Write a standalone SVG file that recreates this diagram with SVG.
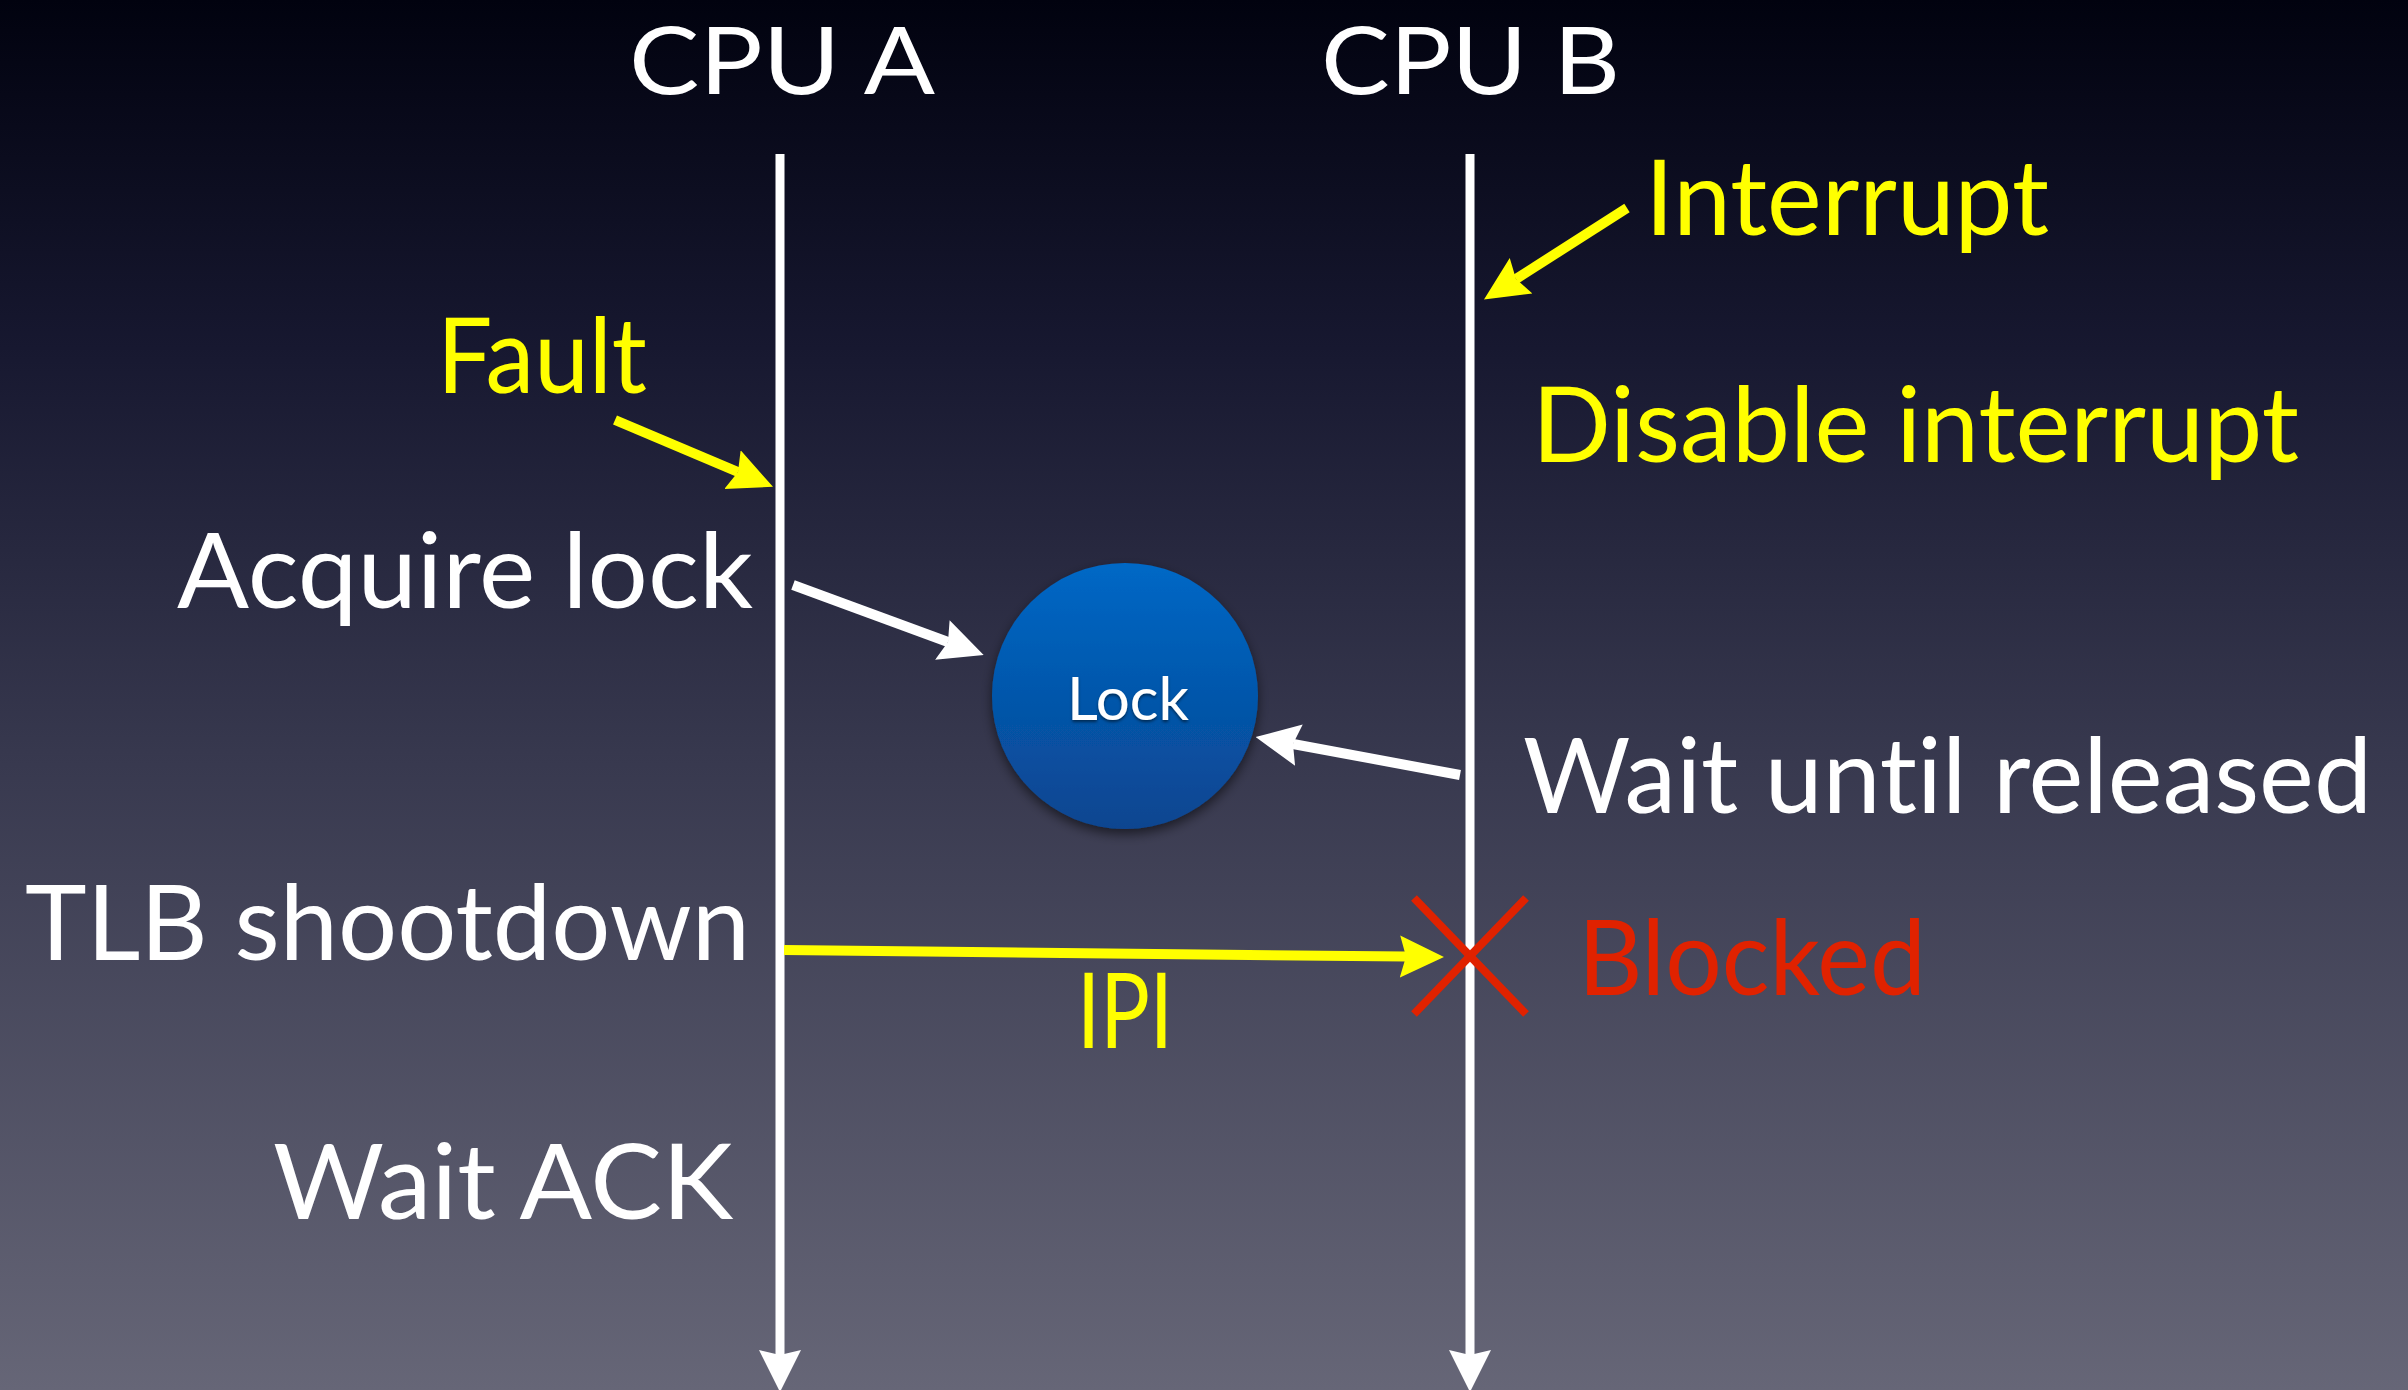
<svg xmlns="http://www.w3.org/2000/svg" width="2408" height="1390" viewBox="0 0 2408 1390">
<defs>
<linearGradient id="bg" x1="0" y1="0" x2="0" y2="1">
<stop offset="0" stop-color="#01020f"/>
<stop offset="0.25" stop-color="#171830"/>
<stop offset="0.55" stop-color="#38394f"/>
<stop offset="1" stop-color="#666677"/>
</linearGradient>
<linearGradient id="lockFill" x1="0" y1="0" x2="0" y2="1">
<stop offset="0" stop-color="#0068c6"/>
<stop offset="1" stop-color="#0a4590"/>
</linearGradient>
<filter id="shadow" x="-30%" y="-30%" width="160%" height="160%">
<feDropShadow dx="0" dy="5" stdDeviation="6" flood-color="#000000" flood-opacity="0.55"/>
</filter>
<filter id="tshadow" x="-20%" y="-20%" width="140%" height="140%">
<feDropShadow dx="0" dy="2" stdDeviation="1.5" flood-color="#000000" flood-opacity="0.5"/>
</filter>
<marker id="ahY" markerUnits="userSpaceOnUse" markerWidth="44" markerHeight="44" viewBox="0 0 44 44" refX="6" refY="22" orient="auto">
<path d="M0,1 L44,22 L0,43 L6,22 Z" fill="#ffff00"/>
</marker>
<marker id="ahW" markerUnits="userSpaceOnUse" markerWidth="44" markerHeight="44" viewBox="0 0 44 44" refX="6" refY="22" orient="auto">
<path d="M0,1 L44,22 L0,43 L6,22 Z" fill="#ffffff"/>
</marker>
<marker id="ahL" markerUnits="userSpaceOnUse" markerWidth="44" markerHeight="44" viewBox="0 0 44 44" refX="5" refY="22" orient="auto">
<path d="M0,1 L42,22 L0,43 L5,22 Z" fill="#ffffff"/>
</marker>
</defs>
<style>
text { font-family: Lato, "Open Sans", "DejaVu Sans", sans-serif; font-variant-ligatures: none; }
.big { font-size: 105px; }
.title { font-size: 93px; }
.white { fill: #ffffff; }
.yellow { fill: #ffff00; }
.red { fill: #e02200; }
.life { stroke: #ffffff; stroke-width: 9; fill: none; }
.conY { stroke: #ffff00; stroke-width: 10; fill: none; }
.conW { stroke: #ffffff; stroke-width: 10; fill: none; }
</style>
<rect x="0" y="0" width="2408" height="1390" fill="url(#bg)"/>

<g id="cpuA">
<text class="title white" x="629" y="94" textLength="306" lengthAdjust="spacingAndGlyphs">CPU A</text>
<line class="life" x1="780" y1="154" x2="780" y2="1355" marker-end="url(#ahL)"/>
</g>
<g id="cpuB">
<text class="title white" x="1321" y="94" textLength="299" lengthAdjust="spacingAndGlyphs">CPU B</text>
<line class="life" x1="1470" y1="154" x2="1470" y2="1355" marker-end="url(#ahL)"/>
</g>

<g id="lock">
<circle cx="1125" cy="696" r="133" fill="url(#lockFill)" filter="url(#shadow)"/>
<text class="white" x="1067" y="720" font-size="60" textLength="122" lengthAdjust="spacingAndGlyphs" filter="url(#tshadow)">Lock</text>
</g>

<g id="label-interrupt"><text class="big yellow" x="1645" y="235" textLength="404" lengthAdjust="spacingAndGlyphs">Interrupt</text></g>
<g id="label-disable"><text class="big yellow" x="1532" y="462" textLength="767" lengthAdjust="spacingAndGlyphs">Disable interrupt</text></g>
<g id="label-fault"><text class="big yellow" x="437" y="393" textLength="210" lengthAdjust="spacingAndGlyphs">Fault</text></g>
<g id="label-acquire"><text class="big white" x="177" y="608" textLength="576" lengthAdjust="spacingAndGlyphs">Acquire lock</text></g>
<g id="label-wait-released"><text class="big white" x="1523" y="813" textLength="849" lengthAdjust="spacingAndGlyphs">Wait until released</text></g>
<g id="label-tlb"><text class="big white" x="25" y="960" textLength="725" lengthAdjust="spacingAndGlyphs">TLB shootdown</text></g>
<g id="label-blocked"><text class="big red" x="1578" y="995" textLength="348" lengthAdjust="spacingAndGlyphs">Blocked</text></g>
<g id="label-ipi"><text class="big yellow" x="1077" y="1048" textLength="96" lengthAdjust="spacingAndGlyphs">IPI</text></g>
<g id="label-waitack"><text class="big white" x="273" y="1219" textLength="460" lengthAdjust="spacingAndGlyphs">Wait ACK</text></g>

<g id="blocked-x" stroke="#e02200" stroke-width="8" fill="none">
<line x1="1414" y1="898" x2="1526" y2="1014"/>
<line x1="1526" y1="898" x2="1414" y2="1014"/>
</g>

<g id="connectors">
<line class="conY" x1="1627" y1="208" x2="1516" y2="279" marker-end="url(#ahY)"/>
<line class="conY" x1="615" y1="420" x2="738" y2="472" marker-end="url(#ahY)"/>
<line class="conW" x1="793" y1="585" x2="948" y2="642" marker-end="url(#ahW)"/>
<line class="conW" x1="1460" y1="775" x2="1293" y2="744" marker-end="url(#ahW)"/>
<line class="conY" x1="784" y1="950" x2="1406" y2="956.6" marker-end="url(#ahY)"/>
</g>
</svg>
